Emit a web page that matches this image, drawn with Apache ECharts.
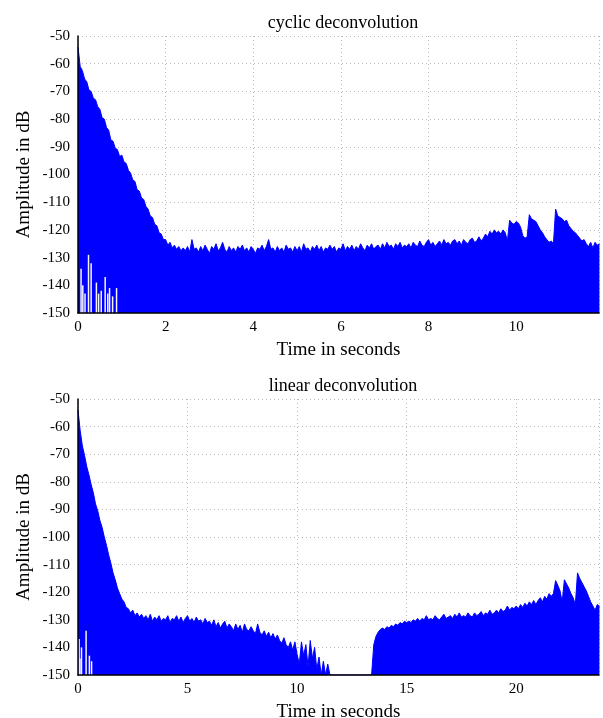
<!DOCTYPE html>
<html>
<head>
<meta charset="utf-8">
<script src="https://cdn.jsdelivr.net/npm/echarts@6/dist/echarts.min.js"></script>
<style>
html,body{margin:0;padding:0;background:#fff;}
#chart{width:603px;height:718px;}
</style>
</head>
<body>
<div id="chart"></div>
<script>
// ---------- data ----------
const titles = ['cyclic deconvolution', 'linear deconvolution'];
const xAxisName = 'Time in seconds';
const yAxisName = 'Amplitude in dB';
const yMin = -150, yMax = -50, yInterval = 10;

// cyclic deconvolution: upper envelope in dB, one value every 0.05 s
const topStep = 0.05;
const topDuration = 11.89;
const topXInterval = 2;
const topAmp = [
  -54, -61, -62.5, -65.5, -66.5, -69.5, -70, -72.5, -73, -75.5,
  -76.5, -79.5, -80, -83, -84, -87.5, -88, -90.5, -91, -93.5,
  -93, -95.5, -96, -98.5, -99.5, -102, -102.5, -105.5, -106, -108.5,
  -109, -111.5, -112.5, -115, -115.5, -118, -118.5, -121, -121.5, -123.5,
  -123.5, -125.5, -124.5, -126.5, -125.5, -127, -126, -127.5, -126.5, -127.5,
  -126, -128, -123.5, -127, -126.5, -128, -126, -127.5, -125.5, -127,
  -128.5, -126, -127, -125, -127.5, -126.5, -124.5, -127, -128, -126,
  -127.5, -126.5, -128, -126, -127, -125.5, -127.5, -126.5, -128, -126,
  -127, -128.5, -126.5, -127, -125.5, -127.5, -126, -123.5, -127, -126.5,
  -128, -126, -127.5, -126.5, -128, -125.5, -127, -126.5, -128, -126,
  -127.5, -126, -128, -125, -127, -126.5, -128, -126, -127, -125.5,
  -127.5, -126, -128, -126.5, -127, -125.5, -127, -126, -128, -126.5,
  -127, -125, -127.5, -126, -127, -125.5, -127.5, -126, -127, -125,
  -126.5, -127.5, -125.5, -126.5, -125, -127, -126, -125.5, -127, -125,
  -126.5, -124.5, -126, -125.5, -127, -125, -126, -124.5, -126.5, -125.5,
  -126, -125, -126.5, -124.5, -125.5, -126, -124, -125.5, -126, -124.5,
  -123.5, -125.5, -124.5, -126, -125, -124, -125.5, -123.5, -125, -124.5,
  -125.5, -124, -123.5, -125, -124, -125.5, -123.5, -124.5, -125, -123.5,
  -123, -124.5, -124, -122.5, -124, -123, -121.5, -122.5, -120.5, -121.5,
  -120, -121, -120.5, -121.5, -120, -121, -124, -116.5, -117.5, -118,
  -117, -117.5, -119, -122, -123, -122.5, -114.5, -116, -116.5, -117,
  -118.5, -120, -121, -122.5, -123.5, -124.5, -124, -125, -112.5, -115,
  -115.5, -116, -117, -116.5, -118.5, -119.5, -120.5, -121, -122, -123,
  -124, -123.5, -125, -126, -124.5, -126.5, -124.5, -125.5, -125
];
// dips of the cyclic signal to the floor (time s, top of the dip in dB)
const topGapT = [0.07, 0.11, 0.16, 0.24, 0.30, 0.42, 0.47, 0.53, 0.62, 0.68, 0.72, 0.79, 0.88];
const topGapV = [-134, -140, -143, -129, -132, -139, -143, -142, -137, -143, -141, -144, -141];

// linear deconvolution: upper envelope in dB, one value every 0.1 s
const botStep = 0.1;
const botDuration = 23.78;
const botXInterval = 5;
const botAmp = [
  -54, -61.5, -67, -70.5, -74.5, -77.5, -81, -84, -88, -90.5,
  -94, -96.5, -100, -103, -106.5, -109.5, -113, -115.5, -118.5, -120.5,
  -122.5, -123.5, -125.5, -126, -127.5, -126.5, -128.5, -127.5, -129, -128,
  -129.5, -128.5, -130, -128, -130.5, -129, -130, -128.5, -130.5, -129.5,
  -130, -128.5, -131, -129.5, -130, -128.5, -130.5, -129, -131, -129.5,
  -128.5, -130.5, -129.5, -131, -129, -130.5, -130, -131.5, -129.5, -131,
  -130.5, -132, -130, -132.5, -131, -133, -131.5, -130.5, -133, -131.5,
  -132.5, -134, -131.5, -133.5, -132, -134.5, -131.5, -133.5, -134, -132.5,
  -134, -135, -131.5, -134.5, -135.5, -134, -136, -134.5, -136.5, -135,
  -137, -135.5, -137.5, -138.5, -136.5, -139, -140, -138, -141, -138,
  -142.5, -146, -138, -143, -139, -147, -137.5, -144, -140, -148,
  -143.5, -150, -145, -150, -146, -150, -150, -150, -150, -150,
  -150, -150, -150, -150, -150, -150, -150, -150, -150, -150,
  -150, -150, -150, -150, -150, -139, -136, -134.5, -133.5, -133,
  -133.5, -132.5, -133, -132, -132.5, -131.5, -132, -131, -131.5, -130.5,
  -131, -130.5, -131, -130, -130.5, -129.5, -130.5, -129.5, -130, -128.5,
  -130, -129.5, -130, -128.5, -129.5, -130, -129, -128, -129.5, -129,
  -128.5, -129.5, -128, -129, -127.5, -129, -128.5, -129, -127.5, -128.5,
  -129, -127.5, -128.5, -128, -127, -128.5, -127.5, -128, -126.5, -128,
  -127.5, -126.5, -127.5, -126, -127, -126.5, -125, -126.5, -125.5, -126,
  -125, -126, -124.5, -125.5, -124, -125, -123.5, -124.5, -123, -124.5,
  -123, -122, -123.5, -121.5, -122.5, -120.5, -121.5, -120.5, -115.8, -117.5,
  -119.5, -123.5, -115.5, -117, -118.5, -120.5, -122, -124.5, -113, -115,
  -116.5, -118, -119.5, -121.5, -123.5, -125, -126.5, -124.5, -125
];
const botGapT = [0.05, 0.09, 0.16, 0.37, 0.52, 0.62];
const botGapV = [-137, -144, -140, -134, -143, -145];

// ---------- chart ----------
const FONT = 'Liberation Serif';
const BLUE = '#0000ff';
const grids = [
  {left: 78, right: 4, top: 36, height: 277, outerBoundsMode: 'none', containLabel: false},
  {left: 78, right: 4, top: 399, height: 276, outerBoundsMode: 'none', containLabel: false}
];
const durations = [topDuration, botDuration];
const xIntervals = [topXInterval, botXInterval];

const xAxes = [], yAxes = [];
grids.forEach((g, gi) => {
  // main axes: labels + dotted grid, behind the series
  xAxes.push({
    type: 'value', gridIndex: gi, position: 'bottom', min: 0, max: durations[gi], interval: xIntervals[gi],
    name: xAxisName, nameLocation: 'middle', nameGap: 28, nameMoveOverlap: false,
    nameTextStyle: {fontFamily: FONT, fontSize: 19, color: '#000'},
    axisLine: {show: false}, axisTick: {show: false},
    axisLabel: {fontFamily: FONT, fontSize: 15, color: '#000', margin: 7, showMaxLabel: false},
    splitLine: {show: true, lineStyle: {color: '#b8b8b8', type: [1, 3], width: 1}}
  });
  yAxes.push({
    type: 'value', gridIndex: gi, position: 'left', min: yMin, max: yMax, interval: yInterval,
    name: yAxisName, nameLocation: 'middle', nameGap: 44, nameMoveOverlap: false,
    nameTextStyle: {fontFamily: FONT, fontSize: 19, color: '#000'},
    axisLine: {show: false}, axisTick: {show: false},
    axisLabel: {fontFamily: FONT, fontSize: 15, color: '#000', margin: 8},
    splitLine: {show: true, lineStyle: {color: '#b8b8b8', type: [1, 3], width: 1}}
  });
});
grids.forEach((g, gi) => {
  // overlay axes: black axis lines drawn above the series
  xAxes.push({
    type: 'value', gridIndex: gi, position: 'bottom', offset: 0,
    min: 0, max: durations[gi], interval: xIntervals[gi], z: 10,
    axisLine: {show: true, onZero: false, lineStyle: {color: '#000', width: 1.5}},
    axisTick: {show: false}, axisLabel: {show: false}, splitLine: {show: false}
  });
  yAxes.push({
    type: 'value', gridIndex: gi, position: 'left', offset: 0,
    min: yMin, max: yMax, interval: yInterval, z: 10,
    axisLine: {show: true, onZero: false, lineStyle: {color: '#000', width: 1.5}},
    axisTick: {show: false}, axisLabel: {show: false}, splitLine: {show: false}
  });
});

function envelopeSeries(amp, step, gi) {
  return {
    type: 'line', xAxisIndex: gi, yAxisIndex: gi,
    data: amp.map((v, i) => [+(i * step).toFixed(3), v]),
    showSymbol: false, symbol: 'none', clip: true, z: 2,
    lineStyle: {color: BLUE, width: 1},
    areaStyle: {color: BLUE, opacity: 1, origin: 'start'},
    silent: true
  };
}
function gapSeries(ts, vs, gi) {
  return {
    type: 'custom', xAxisIndex: gi, yAxisIndex: gi, z: 3, silent: true, clip: true,
    data: ts.map((t, i) => [t, vs[i]]),
    renderItem: (params, api) => {
      const top = api.coord([api.value(0), api.value(1)]);
      const bot = api.coord([api.value(0), yMin]);
      return {type: 'rect', shape: {x: top[0] - 0.75, y: top[1], width: 1.5, height: bot[1] - top[1]},
              style: {fill: '#f4f4ff'}};
    }
  };
}

const chart = echarts.init(document.getElementById('chart'), null, {renderer: 'canvas'});
chart.setOption({
  animation: false,
  backgroundColor: '#fff',
  title: [
    {text: titles[0], left: 338, top: 9, textAlign: 'center',
     textStyle: {fontFamily: FONT, fontSize: 18, fontWeight: 'normal', color: '#000'}},
    {text: titles[1], left: 338, top: 372, textAlign: 'center',
     textStyle: {fontFamily: FONT, fontSize: 18, fontWeight: 'normal', color: '#000'}}
  ],
  grid: grids,
  xAxis: xAxes,
  yAxis: yAxes,
  series: [
    envelopeSeries(topAmp, topStep, 0),
    gapSeries(topGapT, topGapV, 0),
    envelopeSeries(botAmp, botStep, 1),
    gapSeries(botGapT, botGapV, 1)
  ]
});
</script>
</body>
</html>
